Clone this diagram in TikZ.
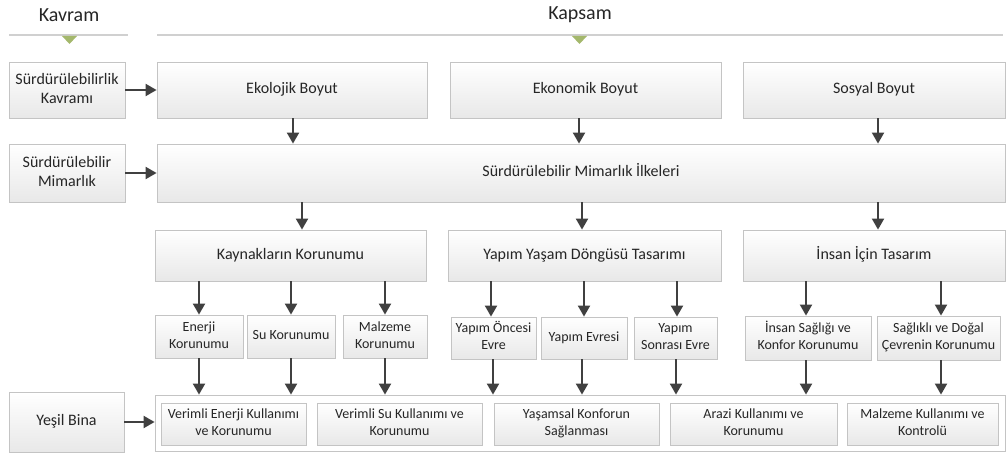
\documentclass[tikz,border=0pt]{standalone}
\usepackage{fontspec}
\setmainfont{Carlito}
\usetikzlibrary{arrows.meta,shadows}
\definecolor{edge}{HTML}{C4C4C4}
\definecolor{arrowgrey}{HTML}{404040}
\definecolor{marker}{HTML}{A4B86C}
\definecolor{ink}{HTML}{262626}
\definecolor{rule}{HTML}{D0D0D0}

% box placed by its corners (x1,y1) (x2,y2), in pixel-like units;
% the label lines are stacked in a centred one-column tabular
\newcommand{\panel}[7][panel]{%
  \pgfmathsetmacro\panelw{#5-#3}%
  \pgfmathsetmacro\panelh{#6-#4}%
  \node[#1, minimum width=\panelw pt, minimum height=\panelh pt]
    (#2) at ({(#3+#5)/2},{(#4+#6)/2}) {\begin{tabular}{@{}c@{}}#7\end{tabular}};}

\tikzset{
  panel/.style={draw=edge, line width=0.8pt, top color=white, bottom color=black!9,
    drop shadow={shadow xshift=1.3pt, shadow yshift=-1.3pt, fill=black!35, opacity=0.45},
    text=ink, font=\fontsize{16}{19.5}\selectfont, inner sep=1pt},
  small/.style={panel, font=\fontsize{14}{17}\selectfont},
  tray/.style={draw=edge, line width=0.8pt, fill=white,
    drop shadow={shadow xshift=1.3pt, shadow yshift=-1.3pt, fill=black!35, opacity=0.45},
    inner sep=1pt},
  flow/.style={draw=arrowgrey, line width=2pt, -{Triangle[length=11pt,width=12pt]}},
  heading/.style={text=ink, font=\fontsize{20}{24}\selectfont},
  headrule/.style={draw=rule, line width=1.5pt},
  pointer/.style={fill=marker, draw=none}
}

\begin{document}
\begin{tikzpicture}[x=1pt,y=-1pt]
\useasboundingbox (0,0) rectangle (1008,454);

% column headings
\node[heading] (kavram) at (69,15) {Kavram};
\node[heading] (kapsam) at (580,15) {Kapsam};
\draw[headrule] (9,35) -- (128,35);
\draw[headrule] (157,35) -- (1003,35);
\fill[pointer] (62,36) -- (77,36) -- (69.5,44) -- cycle;
\fill[pointer] (572,36) -- (587,36) -- (579.5,44) -- cycle;

% concept column
\panel{kav1}{9}{62}{125}{118}{Sürdürülebilirlik\\Kavramı}
\panel{kav2}{9}{144}{125}{202}{Sürdürülebilir\\Mimarlık}
\panel{yesil}{9}{392}{124}{452}{Yeşil Bina}

% dimensions
\panel{eko}{157}{62}{427}{118}{Ekolojik Boyut}
\panel{ekn}{450}{62}{721}{118}{Ekonomik Boyut}
\panel{sos}{743}{62}{1005}{118}{Sosyal Boyut}

% principles
\panel{ilke}{157}{144}{1005}{202}{Sürdürülebilir Mimarlık İlkeleri}

% principle groups
\panel{kay}{155}{230}{426}{281}{Kaynakların Korunumu}
\panel{ydt}{448}{230}{721}{281}{Yapım Yaşam Döngüsü Tasarımı}
\panel{ins}{743}{230}{1005}{281}{İnsan İçin Tasarım}

% sub-principles
\panel[small]{enr}{155}{315}{243}{358}{Enerji\\Korunumu}
\panel[small]{suk}{247}{315}{335}{358}{Su Korunumu}
\panel[small]{mal}{343}{315}{427}{358}{Malzeme\\Korunumu}
\panel[small]{yon}{451}{317}{536}{359}{Yapım Öncesi\\Evre}
\panel[small]{yev}{541}{317}{627}{359}{Yapım Evresi}
\panel[small]{yso}{634}{317}{717}{359}{Yapım\\Sonrası Evre}
\panel[small]{isk}{745}{316}{871}{360}{İnsan Sağlığı ve\\Konfor Korunumu}
\panel[small]{sdc}{877}{316}{1000}{360}{Sağlıklı ve Doğal\\Çevrenin Korunumu}

% green building criteria
\node[tray, minimum width=850pt, minimum height=56pt] (bina) at (580,423) {};
\panel[small]{vek}{161}{403}{306}{445}{Verimli Enerji Kullanımı\\ve Korunumu}
\panel[small]{vsk}{317}{403}{482}{445}{Verimli Su Kullanımı ve\\Korunumu}
\panel[small]{yks}{494}{403}{659}{445}{Yaşamsal Konforun\\Sağlanması}
\panel[small]{akk}{670}{403}{837}{445}{Arazi Kullanımı ve\\Korunumu}
\panel[small]{mkk}{847}{403}{998}{445}{Malzeme Kullanımı ve\\Kontrolü}

% horizontal links from the concept column
\draw[flow] (kav1.east) -- (kav1.east -| eko.west);
\draw[flow] (kav2.east) -- (kav2.east -| ilke.west);
\draw[flow] (yesil.east) -- (yesil.east -| bina.west);

% dimensions to principles
\draw[flow] (293,0 |- eko.south) -- (293,0 |- ilke.north);
\draw[flow] (579,0 |- ekn.south) -- (579,0 |- ilke.north);
\draw[flow] (878,0 |- sos.south) -- (878,0 |- ilke.north);

% principles to groups
\draw[flow] (302,0 |- ilke.south) -- (302,0 |- kay.north);
\draw[flow] (582,0 |- ilke.south) -- (582,0 |- ydt.north);
\draw[flow] (878,0 |- ilke.south) -- (878,0 |- ins.north);

% groups to sub-principles
\draw[flow] (199,0 |- kay.south) -- (199,0 |- enr.north);
\draw[flow] (291,0 |- kay.south) -- (291,0 |- suk.north);
\draw[flow] (385,0 |- kay.south) -- (385,0 |- mal.north);
\draw[flow] (491,0 |- ydt.south) -- (491,0 |- yon.north);
\draw[flow] (584,0 |- ydt.south) -- (584,0 |- yev.north);
\draw[flow] (677,0 |- ydt.south) -- (677,0 |- yso.north);
\draw[flow] (806,0 |- ins.south) -- (806,0 |- isk.north);
\draw[flow] (941,0 |- ins.south) -- (941,0 |- sdc.north);

% sub-principles to green building criteria
\draw[flow] (199,0 |- enr.south) -- (199,0 |- bina.north);
\draw[flow] (291,0 |- suk.south) -- (291,0 |- bina.north);
\draw[flow] (385,0 |- mal.south) -- (385,0 |- bina.north);
\draw[flow] (493,0 |- yon.south) -- (493,0 |- bina.north);
\draw[flow] (582,0 |- yev.south) -- (582,0 |- bina.north);
\draw[flow] (676,0 |- yso.south) -- (676,0 |- bina.north);
\draw[flow] (806,0 |- isk.south) -- (806,0 |- bina.north);
\draw[flow] (941,0 |- sdc.south) -- (941,0 |- bina.north);
\end{tikzpicture}
\end{document}
